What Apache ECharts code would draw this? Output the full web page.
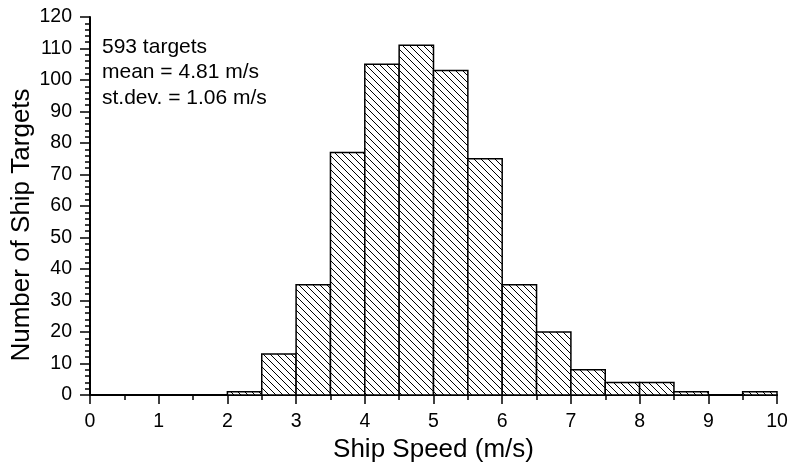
<!DOCTYPE html>
<html>
<head>
<meta charset="utf-8">
<script src="https://cdn.jsdelivr.net/npm/echarts@6/dist/echarts.min.js"></script>
<style>
html,body{margin:0;padding:0;background:#fff;}
#chart{width:793px;height:462px;}
</style>
</head>
<body>
<div id="chart"></div>
<script>
// Histogram bins (m/s) and counts
const binStart = [2.0, 2.5, 3.0, 3.5, 4.0, 4.5, 5.0, 5.5, 6.0, 6.5, 7.0, 7.5, 8.0, 8.5, 9.0, 9.5];
const binEnd   = [2.5, 3.0, 3.5, 4.0, 4.5, 5.0, 5.5, 6.0, 6.5, 7.0, 7.5, 8.0, 8.5, 9.0, 9.5, 10.0];
const counts   = [1, 13, 35, 77, 105, 111, 103, 75, 35, 20, 8, 4, 4, 1, 0, 1];
const annotationLines = ['593 targets', 'mean = 4.81 m/s', 'st.dev. = 1.06 m/s'];
const xTitle = 'Ship Speed (m/s)';
const yTitle = 'Number of Ship Targets';

const FONT = '"Liberation Sans", Arial, sans-serif';

// hatch pattern "\\\\"
const pc = document.createElement('canvas');
const S = 7;
pc.width = S; pc.height = S;
const g = pc.getContext('2d');
g.fillStyle = '#fff'; g.fillRect(0, 0, S, S);
g.strokeStyle = '#000'; g.lineWidth = 1;
g.beginPath();
g.moveTo(-1, -1); g.lineTo(S + 1, S + 1);
g.moveTo(-1, S - 1); g.lineTo(1, S + 1);
g.moveTo(S - 1, -1); g.lineTo(S + 1, 1);
g.stroke();
const pattern = { image: pc, repeat: 'repeat' };

const data = binStart.map((s, i) => [s, binEnd[i], counts[i]]);

const chart = echarts.init(document.getElementById('chart'), null, { renderer: 'canvas' });
chart.setOption({
  animation: false,
  backgroundColor: '#fff',
  grid: { left: 90, right: 16, top: 17, bottom: 67, containLabel: false, outerBoundsMode: 'none' },
  xAxis: {
    type: 'value', min: 0, max: 10, interval: 1,
    name: xTitle, nameLocation: 'middle', nameGap: 32,
    nameTextStyle: { fontFamily: FONT, fontSize: 26, color: '#000' },
    axisLine: { show: true, onZero: false, lineStyle: { color: '#000', width: 2 } },
    axisTick: { show: true, inside: false, length: 9, lineStyle: { color: '#000', width: 1.5 } },
    minorTick: { show: true, splitNumber: 2, length: 5, lineStyle: { color: '#000', width: 1.5 } },
    splitLine: { show: false },
    axisLabel: { margin: 17, fontFamily: FONT, fontSize: 19.5, color: '#000' }
  },
  yAxis: {
    type: 'value', min: 0, max: 120, interval: 10,
    axisLine: { show: true, onZero: false, lineStyle: { color: '#000', width: 2 } },
    axisTick: { show: true, inside: false, length: 10, lineStyle: { color: '#000', width: 1.5 } },
    minorTick: { show: true, splitNumber: 5, length: 5, lineStyle: { color: '#000', width: 1.5 } },
    splitLine: { show: false },
    axisLabel: { margin: 18, fontFamily: FONT, fontSize: 19.5, color: '#000' }
  },
  graphic: [{
    type: 'text', left: 102, top: 34, z: 100,
    style: {
      text: annotationLines.join('\n'),
      font: '21px ' + FONT, fill: '#000', lineHeight: 25.5
    }
  }, {
    type: 'text', x: 22, y: 225, rotation: Math.PI / 2, z: 100,
    style: {
      text: yTitle, font: '26px ' + FONT, fill: '#000',
      align: 'center', verticalAlign: 'middle'
    }
  }],
  series: [{
    type: 'custom',
    data: data,
    encode: { x: [0, 1], y: 2 },
    renderItem: function (params, api) {
      const v = api.value(2);
      const p0 = api.coord([api.value(0), v]);
      const p1 = api.coord([api.value(1), 0]);
      return {
        type: 'rect',
        shape: { x: p0[0], y: p0[1], width: p1[0] - p0[0], height: p1[1] - p0[1] },
        style: { fill: pattern, stroke: '#000', lineWidth: 1.5 }
      };
    }
  }]
});
</script>
</body>
</html>
